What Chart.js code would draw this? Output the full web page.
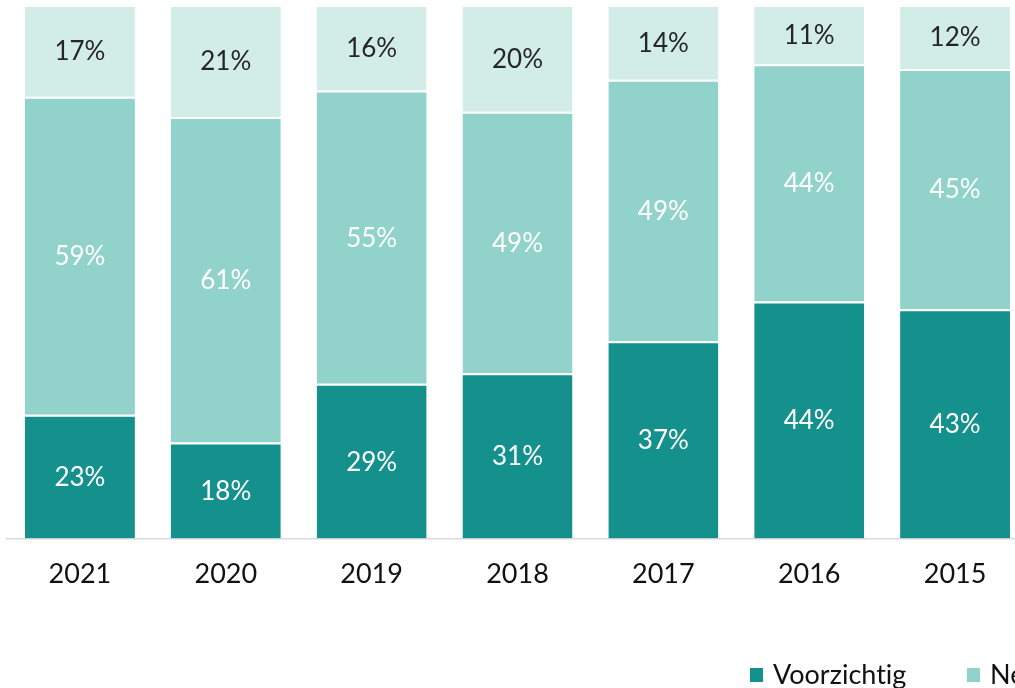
<!DOCTYPE html>
<html lang="nl">
<head>
<meta charset="UTF-8">
<title>Beleggersprofiel per jaar</title>
<style>
* { margin: 0; padding: 0; box-sizing: border-box; }
body { width: 1015px; height: 688px; overflow: hidden; background: #fff; font-family: Lato, sans-serif; }
#wrap { position: relative; width: 1040px; height: 688px; }
#legend { position: absolute; left: 0; top: 0; width: 1400px; height: 688px; pointer-events: none; }
.item { position: absolute; top: 657px; display: flex; align-items: center; font-size: 27px; color: #111; white-space: nowrap; font-variant-ligatures: none; }
.item i { display: inline-block; width: 13px; height: 14px; margin-right: 10px; margin-top: 3px; }
</style>
</head>
<body>
<div id="wrap">
    <canvas id="chart"></canvas>
    <div id="legend"></div>
</div>

<script src="https://cdn.jsdelivr.net/npm/chart.js@4"></script>
<script>
// data (percent per year)
const years = ['2021', '2020', '2019', '2018', '2017', '2016', '2015'];
const voorzichtig = [23, 18, 29, 31, 37, 44, 43];
const neutraal = [59, 61, 55, 49, 49, 44, 45];
const risicovol = [17, 21, 16, 20, 14, 11, 12];
const seriesNames = ['Voorzichtig', 'Neutraal', 'Risicovol'];

const colors = ['#15918d', '#91d3ca', '#d2ece8'];
const labelColors = ['#ffffff', '#ffffff', '#262626'];

// bars are 100% stacked, so scale each year to its total
const totals = years.map((y, i) => voorzichtig[i] + neutraal[i] + risicovol[i]);
const share = arr => arr.map((v, i) => v / totals[i] * 100);

const raw = [voorzichtig, neutraal, risicovol];
const datasets = raw.map((arr, k) => ({
    label: seriesNames[k],
    data: share(arr),
    values: arr,
    labelColor: labelColors[k],
    backgroundColor: colors[k],
    borderColor: '#ffffff',
    borderWidth: { top: 2, left: 0, right: 0, bottom: 0 },
    borderSkipped: 'start',
    categoryPercentage: 1,
    barPercentage: 0.754
}));

// percent labels in the middle of each segment
const segmentLabels = {
    id: 'segmentLabels',
    afterDatasetsDraw(chart) {
        const ctx = chart.ctx;
        ctx.save();
        ctx.font = '26px Lato';
        ctx.textAlign = 'center';
        ctx.textBaseline = 'middle';
        chart.data.datasets.forEach((ds, i) => {
            chart.getDatasetMeta(i).data.forEach((bar, j) => {
                const p = bar.getCenterPoint();
                ctx.fillStyle = ds.labelColor;
                ctx.fillText(ds.values[j] + '%', p.x, p.y + 1);
            });
        });
        ctx.restore();
    }
};

Chart.defaults.font.family = 'Lato';

const chart = new Chart(document.getElementById('chart'), {
    type: 'bar',
    data: { labels: years, datasets: datasets },
    options: {
        responsive: true,
        maintainAspectRatio: false,
        animation: false,
        layout: { padding: { left: 7, right: 12, top: 5, bottom: 79 } },
        plugins: {
            legend: { display: false },
            tooltip: { enabled: false }
        },
        scales: {
            x: {
                stacked: true,
                grid: { display: false, drawTicks: false },
                border: { display: true, color: '#d9d9d9', width: 1.5 },
                ticks: { color: '#111', font: { size: 27 }, padding: 19 }
            },
            y: {
                stacked: true,
                display: false,
                min: 0,
                max: 100
            }
        }
    },
    plugins: [segmentLabels]
});

// legend below the plot, built from the datasets
const legend = document.getElementById('legend');
chart.data.datasets.forEach((ds, i) => {
    const item = document.createElement('div');
    item.className = 'item';
    item.style.left = (750 + i * 217) + 'px';
    item.innerHTML = '<i style="background:' + ds.backgroundColor + '"></i>' + ds.label;
    legend.appendChild(item);
});
</script>
</body>
</html>
